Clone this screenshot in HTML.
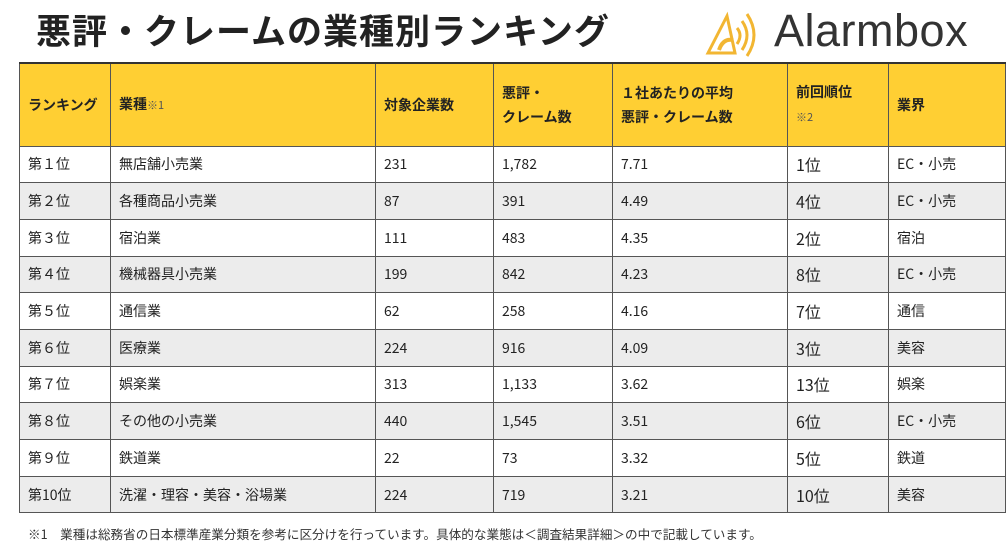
<!DOCTYPE html>
<html><head><meta charset="utf-8">
<style>
body{margin:0;width:1007px;height:549px;background:#fff;overflow:hidden;font-family:"Liberation Sans","Noto Sans CJK JP",sans-serif;color:#222;position:relative}
#title{position:absolute;left:36px;top:4px;font-size:35px;font-weight:bold;letter-spacing:1px;color:#222;font-family:"Noto Sans CJK JP",sans-serif}
#logo{position:absolute;left:705px;top:8px;height:50px}
#logo-text{position:absolute;left:774px;top:5px;font-size:45px;color:#333;letter-spacing:0.5px}
table{position:absolute;left:19px;top:62px;border-collapse:collapse;font-size:14px;font-family:"Noto Sans CJK JP",sans-serif}
td,th{border:1px solid #555;padding:0 0 0 8px;text-align:left;font-weight:normal;height:36.7px;box-sizing:border-box}
th{background:#ffcf33;height:83px;font-weight:bold;font-size:14px;line-height:24px}
tr:nth-child(odd) td{background:#ececec}
tr:first-child th{border-top:2px solid #333}
.big{font-size:16px}
sup2{font-size:11px;color:#555;font-weight:normal}
#note{position:absolute;left:28px;top:524px;font-size:12.6px;color:#333;font-family:"Noto Sans CJK JP",sans-serif}
</style></head><body>
<div id="title">悪評・クレームの業種別ランキング</div>
<svg id="logo" width="60" height="50" viewBox="0 0 60 50">
<path d="M3 45 L22 8 L30 45 Z" fill="none" stroke="#f2b632" stroke-width="3"/>
<path d="M14 42 Q18 30 28 32" fill="none" stroke="#f2b632" stroke-width="4"/>
<path d="M32 20 Q38 27 32 36" fill="none" stroke="#f2b632" stroke-width="3"/>
<path d="M37 13 Q47 27 37 42" fill="none" stroke="#f2b632" stroke-width="3"/>
<path d="M42 6 Q56 27 42 48" fill="none" stroke="#f2b632" stroke-width="3"/>
</svg>
<div id="logo-text">Alarmbox</div>
<table>
<colgroup><col style="width:91px"><col style="width:265px"><col style="width:118px"><col style="width:119px"><col style="width:175px"><col style="width:101px"><col style="width:117px"></colgroup>
<tr><th>ランキング</th><th>業種<sup2>※1</sup2></th><th>対象企業数</th><th>悪評・<br>クレーム数</th><th>１社あたりの平均<br>悪評・クレーム数</th><th>前回順位<br><sup2>※2</sup2></th><th>業界</th></tr>
<tr><td>第１位</td><td>無店舗小売業</td><td>231</td><td>1,782</td><td>7.71</td><td class="big">1位</td><td>EC・小売</td></tr>
<tr><td>第２位</td><td>各種商品小売業</td><td>87</td><td>391</td><td>4.49</td><td class="big">4位</td><td>EC・小売</td></tr>
<tr><td>第３位</td><td>宿泊業</td><td>111</td><td>483</td><td>4.35</td><td class="big">2位</td><td>宿泊</td></tr>
<tr><td>第４位</td><td>機械器具小売業</td><td>199</td><td>842</td><td>4.23</td><td class="big">8位</td><td>EC・小売</td></tr>
<tr><td>第５位</td><td>通信業</td><td>62</td><td>258</td><td>4.16</td><td class="big">7位</td><td>通信</td></tr>
<tr><td>第６位</td><td>医療業</td><td>224</td><td>916</td><td>4.09</td><td class="big">3位</td><td>美容</td></tr>
<tr><td>第７位</td><td>娯楽業</td><td>313</td><td>1,133</td><td>3.62</td><td class="big">13位</td><td>娯楽</td></tr>
<tr><td>第８位</td><td>その他の小売業</td><td>440</td><td>1,545</td><td>3.51</td><td class="big">6位</td><td>EC・小売</td></tr>
<tr><td>第９位</td><td>鉄道業</td><td>22</td><td>73</td><td>3.32</td><td class="big">5位</td><td>鉄道</td></tr>
<tr><td>第10位</td><td>洗濯・理容・美容・浴場業</td><td>224</td><td>719</td><td>3.21</td><td class="big">10位</td><td>美容</td></tr>
</table>
<div id="note">※1　業種は総務省の日本標準産業分類を参考に区分けを行っています。具体的な業態は＜調査結果詳細＞の中で記載しています。</div>
</body></html>
